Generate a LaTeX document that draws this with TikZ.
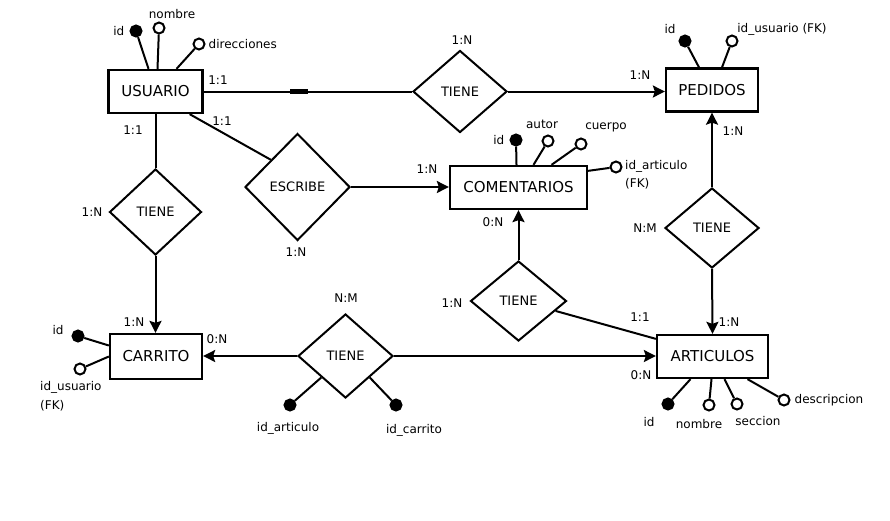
\documentclass[tikz,border=0pt]{standalone}
\usepackage{fontspec}
\setmainfont{DejaVu Sans}
\usetikzlibrary{arrows.meta,positioning,shapes.geometric}

\begin{document}
\begin{tikzpicture}[x=1pt,y=-1pt,
	entity/.style={rectangle,draw,line width=2.3pt,minimum height=43pt,font=\fontsize{15}{18}\selectfont},
	rel/.style={diamond,draw,line width=2pt,inner sep=0pt,font=\fontsize{13}{15}\selectfont},
	key/.style={circle,draw,fill=black,line width=2pt,minimum size=11pt,inner sep=0pt},
	attr/.style={circle,draw,fill=white,line width=2pt,minimum size=11pt,inner sep=0pt},
	lbl/.style={inner sep=1pt,font=\fontsize{12}{15}\selectfont},
	conn/.style={line width=2pt},
	arr/.style={line width=2pt,-{Stealth[length=12pt,width=12pt,inset=2pt]}}]
	\useasboundingbox (0,0) rectangle (890,520);
	\fill[white] (0,0) rectangle (890,520);

	\begin{scope}
		\node[entity,minimum width=94pt] (usuario) at (155.5,91.5) {USUARIO};
		\node[entity,minimum width=92pt] (pedidos) at (712,90) {PEDIDOS};
		\node[entity,minimum width=137pt] (comentarios) at (518.5,187.5) {COMENTARIOS};
		\node[entity,minimum width=111pt] (articulos) at (712.5,356.5) {ARTICULOS};
		\node[entity,minimum width=92pt,minimum height=45pt] (carrito) at (156,356.5) {CARRITO};

		\node[rel,minimum width=94pt,minimum height=82pt] (tiene1) at (460,91.5) {TIENE};
		\node[rel,minimum width=94pt,minimum height=80pt] (tiene2) at (712,228) {TIENE};
		\node[rel,minimum width=96pt,minimum height=80pt] (tiene3) at (518.5,301) {TIENE};
		\node[rel,minimum width=92pt,minimum height=86pt] (tiene4) at (155.5,212) {TIENE};
		\node[rel,minimum width=95pt,minimum height=84pt] (tiene5) at (345.5,356) {TIENE};
		\node[rel,minimum width=105pt,minimum height=107pt] (escribe) at (297.5,187) {ESCRIBE};
	\end{scope}

	\begin{scope}
	\draw[conn] (usuario.east) -- (tiene1.west);
	\node[fill,inner sep=0pt,minimum width=18pt,minimum height=4.5pt] (mark) at (299,91.5) {};
	\draw[arr] (tiene1.east) -- (tiene1.east -| pedidos.west);
	\draw[conn] ([xshift=-14pt]usuario.south east) -- (escribe.north west);
	\draw[arr] (escribe.east) -- (escribe.east -| comentarios.west);
	\draw[conn] (usuario.south) -- (tiene4.north);
	\draw[arr] (tiene4.south) -- (tiene4.south |- carrito.north);
	\draw[arr] (tiene5.west) -- (tiene5.west -| carrito.east);
	\draw[arr] (tiene5.east) -- (tiene5.east -| articulos.west);
	\draw[arr] (tiene3.north) -- (comentarios.south);
	\draw[conn] (tiene3.-15) -- ([yshift=-5pt]articulos.north west);
	\draw[arr] (tiene2.north) -- (pedidos.south);
	\draw[arr] (tiene2.south) -- (articulos.north);
	\end{scope}

	\node[key] (uid) at (136,31) {};
	\node[attr] (unombre) at (159,28) {};
	\node[attr] (udir) at (199,44) {};
	\node[lbl,left=4pt of uid] (luid) {id};
	\node[lbl] (lunombre) at (172,14) {nombre};
	\node[lbl,right=2pt of udir] (ludir) {direcciones};
	\draw[conn] (uid) -- ([xshift=-7pt]usuario.north);
	\draw[conn] (unombre) -- ([xshift=2pt]usuario.north);
	\draw[conn] (udir) -- ([xshift=21pt]usuario.north);

	\node[key] (pid) at (685,41) {};
	\node[attr] (pidu) at (732,41) {};
	\node[lbl] (lpid) at (670,29) {id};
	\node[lbl] (lpidu) at (782,29) {id\_usuario (FK)};
	\draw[conn] (pid) -- ([xshift=-13pt]pedidos.north);
	\draw[conn] (pidu) -- ([xshift=10pt]pedidos.north);

	\node[key] (cid) at (516,140) {};
	\node[attr] (cautor) at (548,141) {};
	\node[attr] (ccuerpo) at (581,144) {};
	\node[attr] (cidart) at (616,167) {};
	\node[lbl,left=4pt of cid] (lcid) {id};
	\node[lbl] (lcautor) at (542,124) {autor};
	\node[lbl] (lccuerpo) at (606,127) {cuerpo};
	\node[lbl,align=left,anchor=west,font=\fontsize{12}{18}\selectfont] (lcidart) at (624,175) {id\_articulo\\(FK)};
	\draw[conn] (cid) -- ([xshift=-2pt]comentarios.north);
	\draw[conn] (cautor) -- ([xshift=15pt]comentarios.north);
	\draw[conn] (ccuerpo) -- ([xshift=33pt]comentarios.north);
	\draw[conn] (cidart) -- ([yshift=-6pt]comentarios.north east);

	\node[key] (aid) at (668,404) {};
	\node[attr] (anombre) at (709,405) {};
	\node[attr] (aseccion) at (737,404) {};
	\node[attr] (adesc) at (784,400) {};
	\node[lbl] (laid) at (649,422) {id};
	\node[lbl] (lanombre) at (699,424) {nombre};
	\node[lbl] (laseccion) at (758,421) {seccion};
	\node[lbl,right=3pt of adesc] (ladesc) {descripcion};
	\draw[conn] (aid) -- ([xshift=-22pt]articulos.south);
	\draw[conn] (anombre) -- ([xshift=-1pt]articulos.south);
	\draw[conn] (aseccion) -- ([xshift=12pt]articulos.south);
	\draw[conn] (adesc) -- ([xshift=35pt]articulos.south);

	\node[key] (kid) at (78,336) {};
	\node[attr] (kidu) at (80,369) {};
	\node[lbl] (lkid) at (58,330) {id};
	\node[lbl,align=left,anchor=west,font=\fontsize{12}{19}\selectfont] (lkidu) at (39,396.5) {id\_usuario\\(FK)};
	\draw[conn] (kid) -- ([yshift=11pt]carrito.west);
	\draw[conn] (kidu) -- (carrito.west);

	\node[key] (tid) at (290,405) {};
	\node[key] (tidc) at (396,405) {};
	\node[lbl] (ltid) at (288,428) {id\_articulo};
	\node[lbl] (ltidc) at (414,430) {id\_carrito};
	\draw[conn] (tid) -- (tiene5.south west);
	\draw[conn] (tidc) -- (tiene5.south east);

	\node[lbl] (card1) at (218,80) {1:1};
	\node[lbl] (card2) at (222,121) {1:1};
	\node[lbl] (card3) at (133,130) {1:1};
	\node[lbl] (card4) at (462,40) {1:N};
	\node[lbl] (card5) at (640,75) {1:N};
	\node[lbl] (card6) at (733,131) {1:N};
	\node[lbl] (card7) at (427,169) {1:N};
	\node[lbl] (card8) at (493,222) {0:N};
	\node[lbl] (card9) at (645,228) {N:M};
	\node[lbl] (card10) at (729,322) {1:N};
	\node[lbl] (card11) at (640,317) {1:1};
	\node[lbl] (card12) at (641,375) {0:N};
	\node[lbl] (card13) at (452,303) {1:N};
	\node[lbl] (card14) at (92,212) {1:N};
	\node[lbl] (card15) at (296,252) {1:N};
	\node[lbl] (card16) at (134,322) {1:N};
	\node[lbl] (card17) at (217,339) {0:N};
	\node[lbl] (card18) at (346,298) {N:M};
\end{tikzpicture}
\end{document}
